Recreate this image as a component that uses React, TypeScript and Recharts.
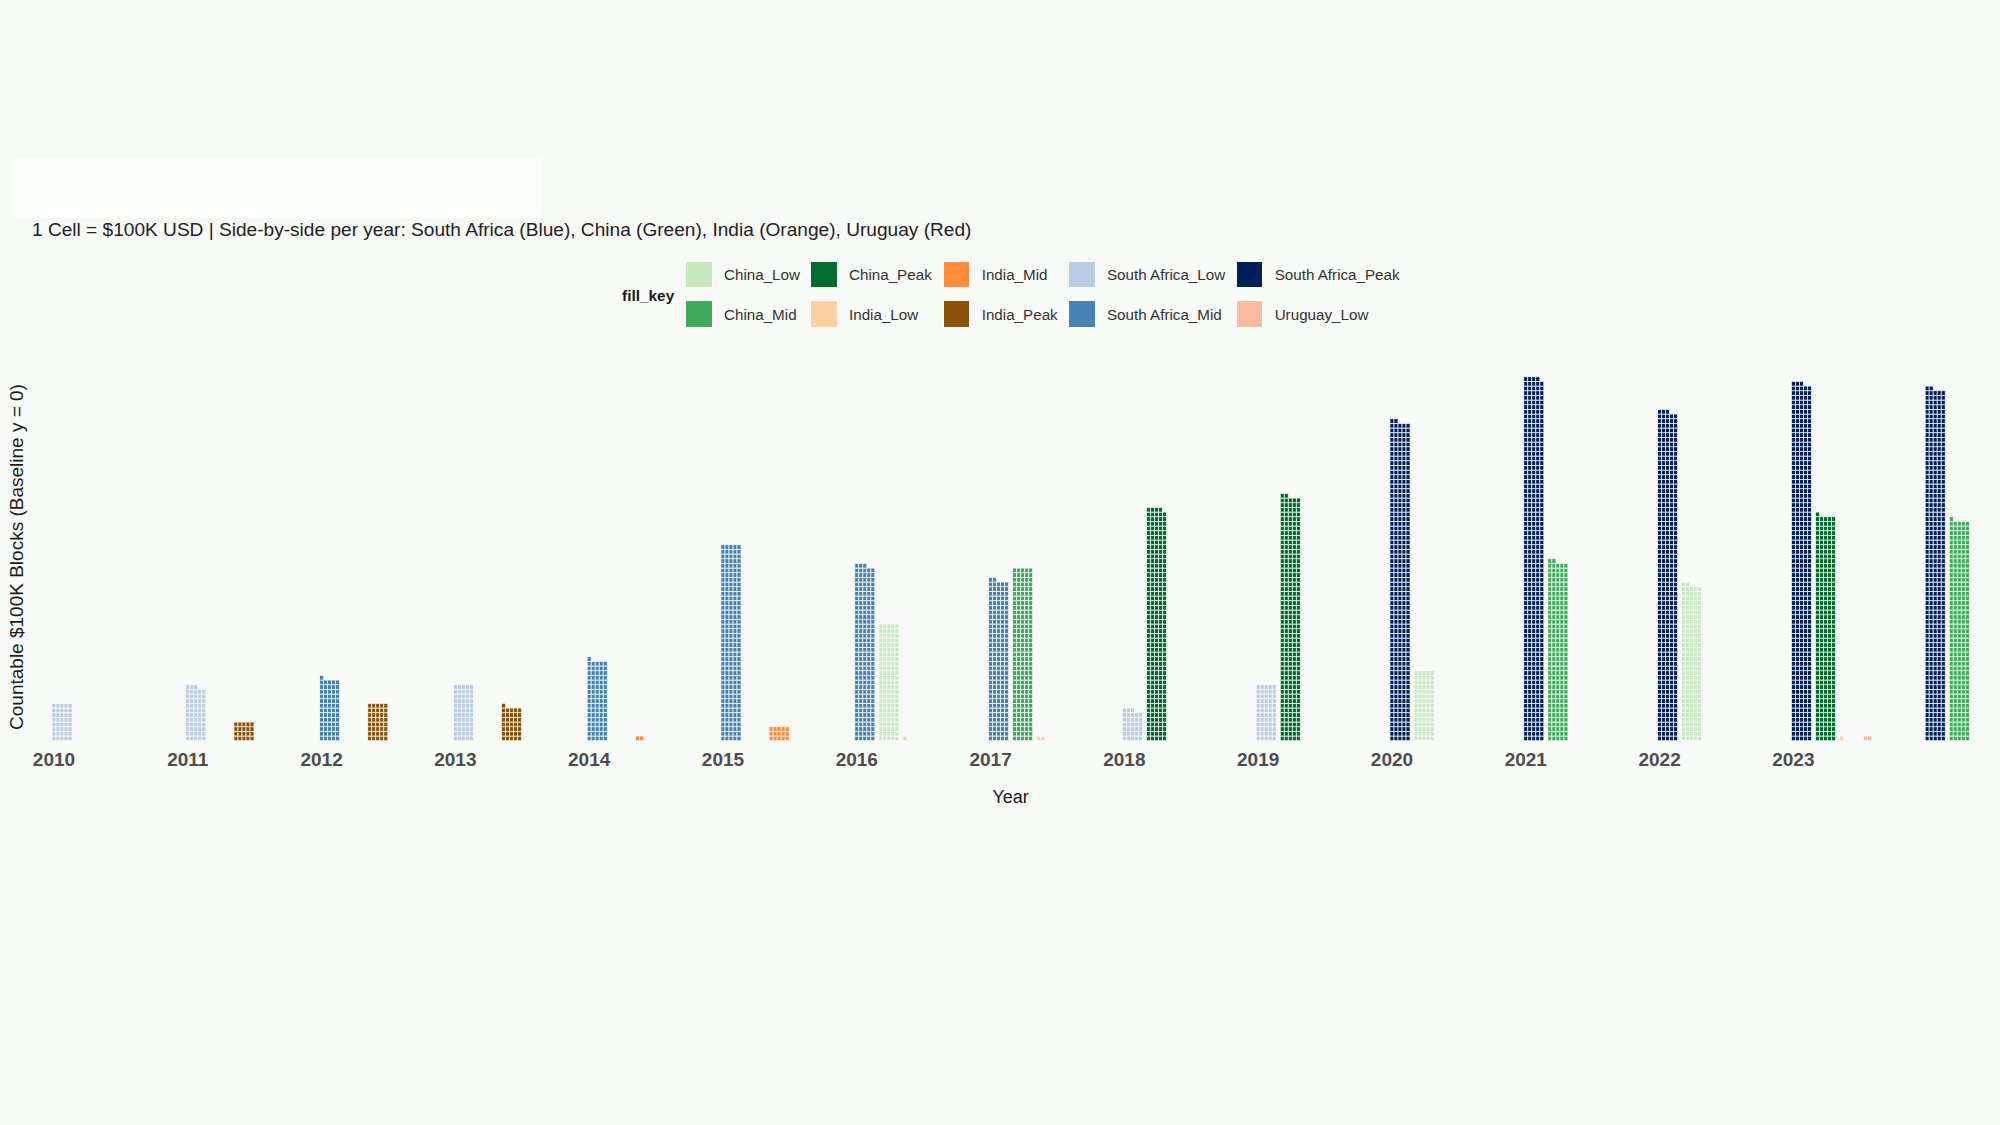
import React from 'react';
import { ScatterChart, Scatter, XAxis, YAxis } from 'recharts';

// one cell = $100K USD, counts read per year and country
const years = [2010, 2011, 2012, 2013, 2014, 2015, 2016, 2017, 2018, 2019, 2020, 2021, 2022, 2023, 2024];
const tickYears = [2010, 2011, 2012, 2013, 2014, 2015, 2016, 2017, 2018, 2019, 2020, 2021, 2022, 2023];

const southAfricaCells = [40, 58, 66, 60, 86, 210, 188, 172, 33, 60, 342, 389, 353, 383, 377];
const southAfricaTier = ['Low', 'Low', 'Mid', 'Low', 'Mid', 'Mid', 'Mid', 'Mid', 'Low', 'Low', 'Peak', 'Peak', 'Peak', 'Peak', 'Peak'];

const chinaCells = [0, 0, 0, 0, 0, 0, 125, 185, 249, 262, 75, 192, 167, 241, 236];
const chinaTier = ['', '', '', '', '', '', 'Low', 'Mid', 'Peak', 'Peak', 'Low', 'Mid', 'Low', 'Peak', 'Mid'];

const indiaCells = [0, 20, 40, 36, 2, 15, 1, 2, 0, 0, 0, 0, 0, 1, 0];
const indiaTier = ['', 'Peak', 'Peak', 'Peak', 'Mid', 'Mid', 'Low', 'Low', '', '', '', '', '', 'Low', ''];

const uruguayCells = [0, 0, 0, 0, 0, 0, 0, 0, 0, 0, 0, 0, 0, 2, 0];
const uruguayTier = ['Low', 'Low', 'Low', 'Low', 'Low', 'Low', 'Low', 'Low', 'Low', 'Low', 'Low', 'Low', 'Low', 'Low', 'Low'];

const legendKeys = [
    'China_Low', 'China_Mid', 'China_Peak', 'India_Low', 'India_Mid',
    'India_Peak', 'South Africa_Low', 'South Africa_Mid', 'South Africa_Peak', 'Uruguay_Low',
];

const fillColors: Record<string, string> = {
    'China_Low': '#c7e9c0',
    'China_Mid': '#41ab5d',
    'China_Peak': '#006d2c',
    'India_Low': '#fdd0a2',
    'India_Mid': '#fd8d3c',
    'India_Peak': '#8c510a',
    'South Africa_Low': '#b8cde4',
    'South Africa_Mid': '#4682b4',
    'South Africa_Peak': '#00205b',
    'Uruguay_Low': '#fcbba1',
};

const countries = [
    { name: 'South Africa', cells: southAfricaCells, tier: southAfricaTier },
    { name: 'China', cells: chinaCells, tier: chinaTier },
    { name: 'India', cells: indiaCells, tier: indiaTier },
    { name: 'Uruguay', cells: uruguayCells, tier: uruguayTier },
];

const COLS = 5;
const COL_STEP = 0.03;
const SLOT_STEP = 0.18;

// waffle cells grouped by fill key
const cellsByKey: Record<string, { x: number; y: number }[]> = {};
legendKeys.forEach(k => { cellsByKey[k] = []; });
countries.forEach((c, slot) => {
    years.forEach((yr, i) => {
        const n = c.cells[i];
        if (!n) return;
        const key = `${c.name}_${c.tier[i]}`;
        for (let j = 0; j < n; j++) {
            cellsByKey[key].push({
                x: yr + slot * SLOT_STEP + (j % COLS) * COL_STEP,
                y: Math.floor(j / COLS) + 0.5,
            });
        }
    });
});

const CHART_W = 2000;
const CHART_H = 1125;
const X_DOMAIN: [number, number] = [2009.9, 2024.4];
const Y_DOMAIN: [number, number] = [0, 80];
const MARGIN = { top: 367.4, right: 19.3, left: 40.6, bottom: 354.3 };
const X_AXIS_H = 30;
const plotW = CHART_W - MARGIN.left - MARGIN.right;
const plotH = CHART_H - MARGIN.top - MARGIN.bottom - X_AXIS_H;
const cellW = (COL_STEP / (X_DOMAIN[1] - X_DOMAIN[0])) * plotW;
const cellH = plotH / (Y_DOMAIN[1] - Y_DOMAIN[0]);

const font = '"Liberation Sans", Arial, sans-serif';
const bg = '#f8faf8';

if (typeof document !== 'undefined') {
    document.body.style.margin = '0';
    document.body.style.background = bg;
}

const makeCell = (color: string) => (props: any) => (
    <rect
        x={props.cx - cellW / 2}
        y={props.cy - cellH / 2}
        width={cellW}
        height={cellH}
        fill={color}
        stroke="#ffffff"
        strokeWidth={0.7}
    />
);

const YearTick = (props: any) => {
    const { x, payload } = props;
    return (
        <text x={x} y={MARGIN.top + plotH + 25} textAnchor="middle" fontFamily={font}
            fontSize={19} fontWeight={700} fill="#4d4d4d">
            {payload.value}
        </text>
    );
};

const App: React.FC = () => {
    return (
        <div style={{ position: 'relative', width: CHART_W, height: CHART_H, background: bg, fontFamily: font, overflow: 'hidden' }}>
            <div style={{ position: 'absolute', left: 12, top: 158, width: 529, height: 60, background: '#fcfefc' }} />
            <div style={{ position: 'absolute', left: 32, top: 219, fontSize: 19.1, color: '#222', whiteSpace: 'nowrap', lineHeight: '22px' }}>
                1 Cell = $100K USD | Side-by-side per year: South Africa (Blue), China (Green), India (Orange), Uruguay (Red)
            </div>

            <div style={{ position: 'absolute', left: 622, top: 286, fontSize: 15.4, fontWeight: 700, color: '#1a1a1a', lineHeight: '20px' }}>
                fill_key
            </div>
            <div style={{
                position: 'absolute', left: 685, top: 254.75,
                display: 'grid', gridAutoFlow: 'column',
                gridTemplateRows: '39.5px 39.5px',
                gridTemplateColumns: '125px 132.7px 125.3px 167.7px auto',
            }}>
                {legendKeys.map(k => (
                    <div key={k} style={{ display: 'flex', alignItems: 'center' }}>
                        <div style={{ width: 27.7, height: 27.7, background: fillColors[k], boxSizing: 'border-box', border: '0.5px solid #ffffff' }} />
                        <span style={{ marginLeft: 11.3, fontSize: 15.2, color: '#333', whiteSpace: 'nowrap' }}>{k}</span>
                    </div>
                ))}
            </div>

            <div style={{
                position: 'absolute', left: 17, top: 557, transform: 'translate(-50%, -50%) rotate(-90deg)',
                fontSize: 19, color: '#1a1a1a', whiteSpace: 'nowrap',
            }}>
                Countable $100K Blocks (Baseline y = 0)
            </div>

            <div style={{ position: 'absolute', left: 0, top: 0 }}>
                <ScatterChart width={CHART_W} height={CHART_H} margin={MARGIN}>
                    <XAxis
                        type="number"
                        dataKey="x"
                        domain={X_DOMAIN}
                        allowDataOverflow
                        ticks={tickYears}
                        interval={0}
                        height={X_AXIS_H}
                        axisLine={false}
                        tickLine={false}
                        tick={<YearTick />}
                        label={{
                            content: ({ viewBox }: any) => (
                                <text x={viewBox.x + viewBox.width / 2} y={viewBox.y + 62} textAnchor="middle"
                                    fontFamily={font} fontSize={18} fill="#1a1a1a">Year</text>
                            ),
                        }}
                    />
                    <YAxis type="number" dataKey="y" domain={Y_DOMAIN} allowDataOverflow hide />
                    {legendKeys.map(k => (
                        <Scatter
                            key={k}
                            name={k}
                            data={cellsByKey[k]}
                            fill={fillColors[k]}
                            shape={makeCell(fillColors[k])}
                            isAnimationActive={false}
                        />
                    ))}
                </ScatterChart>
            </div>
        </div>
    );
};

export default App;
